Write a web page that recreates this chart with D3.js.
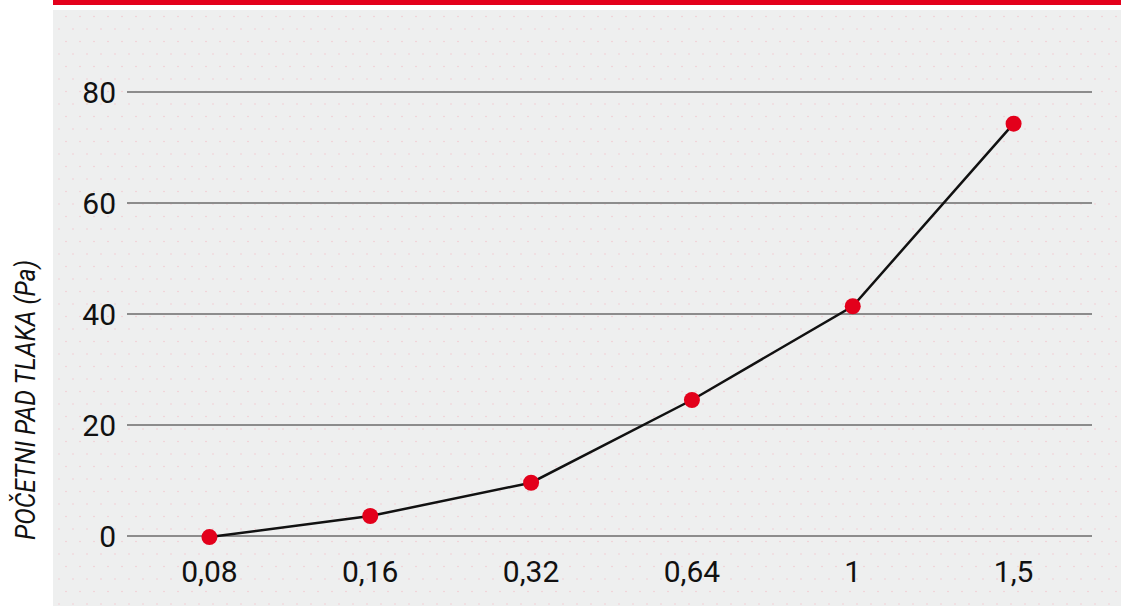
<!DOCTYPE html>
<html>
<head>
<meta charset="utf-8">
<script src="https://cdn.jsdelivr.net/npm/d3@7"></script>
<style>
  body { margin: 0; background: #fff; }
  svg text { font-family: "Roboto", sans-serif; fill: #111; }
</style>
</head>
<body>
<script>
// Data
const categories = ["0,08", "0,16", "0,32", "0,64", "1", "1,5"];
const pressureDrop = [-0.2, 3.6, 9.6, 24.5, 41.4, 74.3];
const yTicks = [0, 20, 40, 60, 80];
const yLabel = "POČETNI PAD TLAKA (Pa)";

const W = 1123, H = 606;
const margin = {top: 92, right: 31, bottom: 70, left: 127};
const width = W - margin.left - margin.right;
const height = 536 - margin.top;

const svg = d3.select("body").append("svg")
    .attr("width", W)
    .attr("height", H);

// dotted background pattern
const defs = svg.append("defs");
const pat = defs.append("pattern")
    .attr("id", "dots")
    .attr("width", 14)
    .attr("height", 25)
    .attr("patternUnits", "userSpaceOnUse");
pat.append("rect").attr("width", 14).attr("height", 25).attr("fill", "#eeefef");
pat.append("circle").attr("cx", 3).attr("cy", 4).attr("r", 0.7).attr("fill", "#f4c3cb");
pat.append("circle").attr("cx", 10).attr("cy", 16.5).attr("r", 0.7).attr("fill", "#f4c3cb");

// panel + red top bar
svg.append("rect")
    .attr("x", 53).attr("y", 10)
    .attr("width", W - 53 - 2).attr("height", H - 10)
    .attr("fill", "url(#dots)");
svg.append("rect")
    .attr("x", 53).attr("y", 0)
    .attr("width", W - 53 - 2).attr("height", 5)
    .attr("fill", "#e3001b");

const g = svg.append("g")
    .attr("transform", "translate(" + margin.left + "," + margin.top + ")");

// scales
const xScale = d3.scalePoint()
    .domain(categories)
    .range([2, width + 2])
    .padding(0.5);

const yScale = d3.scaleLinear()
    .domain([0, 80])
    .range([height, 0]);

// gridlines
g.selectAll(".grid")
    .data(yTicks)
    .enter().append("line")
    .attr("x1", 0)
    .attr("x2", width)
    .attr("y1", d => yScale(d))
    .attr("y2", d => yScale(d))
    .attr("stroke", "#8c8c8c")
    .attr("stroke-width", 2);

// y tick labels
g.selectAll(".ylab")
    .data(yTicks)
    .enter().append("text")
    .attr("x", -11)
    .attr("y", d => yScale(d))
    .attr("dy", "0.36em")
    .attr("text-anchor", "end")
    .style("font-size", "30px")
    .text(d => d);

// x tick labels
g.selectAll(".xlab")
    .data(categories)
    .enter().append("text")
    .attr("x", d => xScale(d))
    .attr("y", height + 46)
    .attr("text-anchor", "middle")
    .style("font-size", "30px")
    .text(d => d);

// y axis title
svg.append("text")
    .attr("transform", "translate(35,400) rotate(-90)")
    .attr("text-anchor", "middle")
    .style("font-size", "27px")
    .style("font-style", "italic")
    .attr("textLength", 280)
    .attr("lengthAdjust", "spacingAndGlyphs")
    .text(yLabel);

// line
const series = categories.map((c, i) => ({cat: c, val: pressureDrop[i]}));

const line = d3.line()
    .x(d => xScale(d.cat))
    .y(d => yScale(d.val));

g.append("path")
    .datum(series)
    .attr("d", line)
    .attr("fill", "none")
    .attr("stroke", "#111")
    .attr("stroke-width", 2.5);

// points
g.selectAll("circle.pt")
    .data(series)
    .enter().append("circle")
    .attr("class", "pt")
    .attr("cx", d => xScale(d.cat))
    .attr("cy", d => yScale(d.val))
    .attr("r", 8)
    .attr("fill", "#e3001b");
</script>
</body>
</html>
